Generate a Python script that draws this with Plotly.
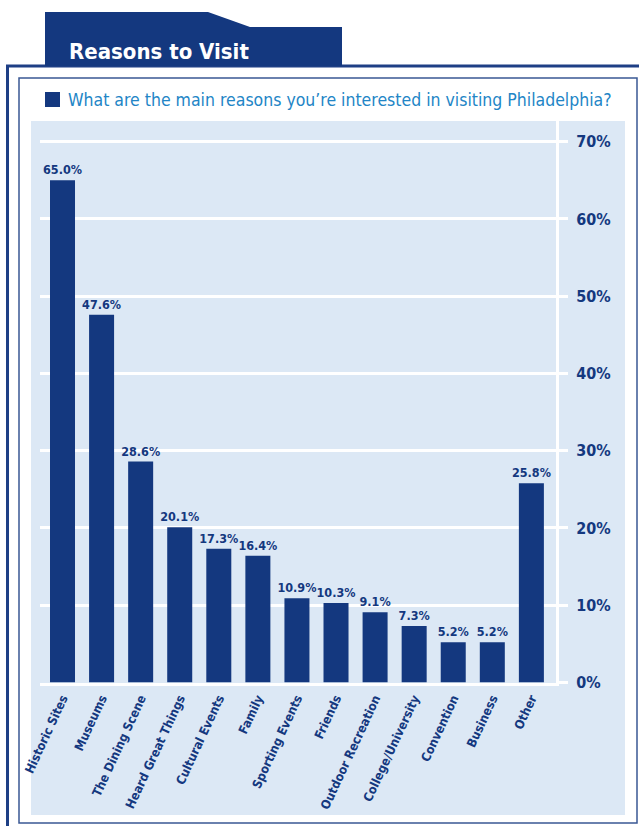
import plotly.graph_objects as go

categories = ["Historic Sites", "Museums", "The Dining Scene", "Heard Great Things",
              "Cultural Events", "Family", "Sporting Events", "Friends",
              "Outdoor Recreation", "College/University", "Convention", "Business", "Other"]
values = [65.0, 47.6, 28.6, 20.1, 17.3, 16.4, 10.9, 10.3, 9.1, 7.3, 5.2, 5.2, 25.8]
y_ticks = [0, 10, 20, 30, 40, 50, 60, 70]
y_tick_labels = ["0%", "10%", "20%", "30%", "40%", "50%", "60%", "70%"]

W, H = 639, 826
NAVY = "#14387f"
BG = "#dce8f5"
FONT = "Liberation Sans Narrow, DejaVu Sans Condensed, Arial Narrow, sans-serif"


def px(x):
    return x / W


def py(y):
    return 1 - y / H


fig = go.Figure()
fig.add_trace(go.Bar(
    x=categories, y=values, width=0.64,
    marker=dict(color=NAVY, line=dict(width=0)),
    texttemplate="%{y:.1f}%", textposition="outside", cliponaxis=False,
    constraintext="none",
    textfont=dict(family=FONT, size=12.5, color=NAVY, weight="bold"),
    hoverinfo="skip",
))

shapes = [
    dict(type="rect", xref="paper", yref="paper", x0=px(31), x1=px(625), y0=py(815), y1=py(121),
         fillcolor=BG, line=dict(width=0), layer="below"),
    dict(type="rect", xref="paper", yref="paper", x0=px(19), x1=px(637), y0=py(823), y1=py(78),
         fillcolor="rgba(0,0,0,0)", line=dict(color="#3a5894", width=1.5), layer="below"),
    dict(type="line", xref="paper", yref="paper", x0=px(7.5), x1=px(7.5), y0=py(826), y1=py(66),
         line=dict(color="#1e3f85", width=3), layer="below"),
    dict(type="line", xref="paper", yref="paper", x0=px(6), x1=px(639), y0=py(66), y1=py(66),
         line=dict(color="#1e3f85", width=3), layer="below"),
    dict(type="path", xref="paper", yref="paper",
         path=(f"M {px(45)},{py(12)} L {px(208)},{py(12)} L {px(250)},{py(27)} "
               f"L {px(342)},{py(27)} L {px(342)},{py(66)} L {px(45)},{py(66)} Z"),
         fillcolor=NAVY, line=dict(width=0), layer="below"),
    dict(type="rect", xref="paper", yref="paper", x0=px(45), x1=px(60), y0=py(107), y1=py(92),
         fillcolor=NAVY, line=dict(width=0)),
]

annotations = [
    dict(text="Reasons to Visit", xref="paper", yref="paper", x=px(67), y=py(52),
         xanchor="left", yanchor="middle", showarrow=False,
         font=dict(family=FONT, size=22, color="white", weight="bold")),
    dict(text="What are the main reasons you\u2019re interested in visiting Philadelphia?",
         xref="paper", yref="paper", x=px(66), y=py(100),
         xanchor="left", yanchor="middle", showarrow=False,
         font=dict(family=FONT, size=17.5, color="#2285c6")),
]

y_bottom, y_top = 682.5, 121.0
per_pct = (682.5 - 141.7) / 70.0
y_max = (y_bottom - y_top) / per_pct

fig.update_layout(
    width=W, height=H, template="none",
    margin=dict(l=0, r=0, t=0, b=0, pad=0),
    paper_bgcolor="white", plot_bgcolor="rgba(0,0,0,0)",
    showlegend=False, shapes=shapes, annotations=annotations,
    xaxis=dict(
        domain=[px(40), px(556)], range=[-0.576, 12.63], automargin=False,
        showgrid=False, zeroline=False, showline=True, linecolor="white", linewidth=2.5,
        ticks="", tickangle=-65, ticklabelstandoff=1,
        tickfont=dict(family=FONT, size=12.5, color=NAVY, weight="bold"),
        fixedrange=True,
    ),
    yaxis=dict(
        domain=[py(y_bottom), py(y_top)], range=[0, y_max], automargin=False,
        side="right", tickvals=y_ticks, ticktext=y_tick_labels,
        showgrid=True, gridcolor="white", gridwidth=2.5, zeroline=False,
        showline=True, linecolor="white", linewidth=3,
        ticks="outside", ticklen=9, tickwidth=2.5, tickcolor="white",
        ticklabelstandoff=5,
        tickfont=dict(family=FONT, size=16, color=NAVY, weight="bold"),
        fixedrange=True,
    ),
)

fig.write_html(
    "out.html",
    config={"displayModeBar": False},
    post_script="document.body.style.margin='0';document.body.style.padding='0';",
)
